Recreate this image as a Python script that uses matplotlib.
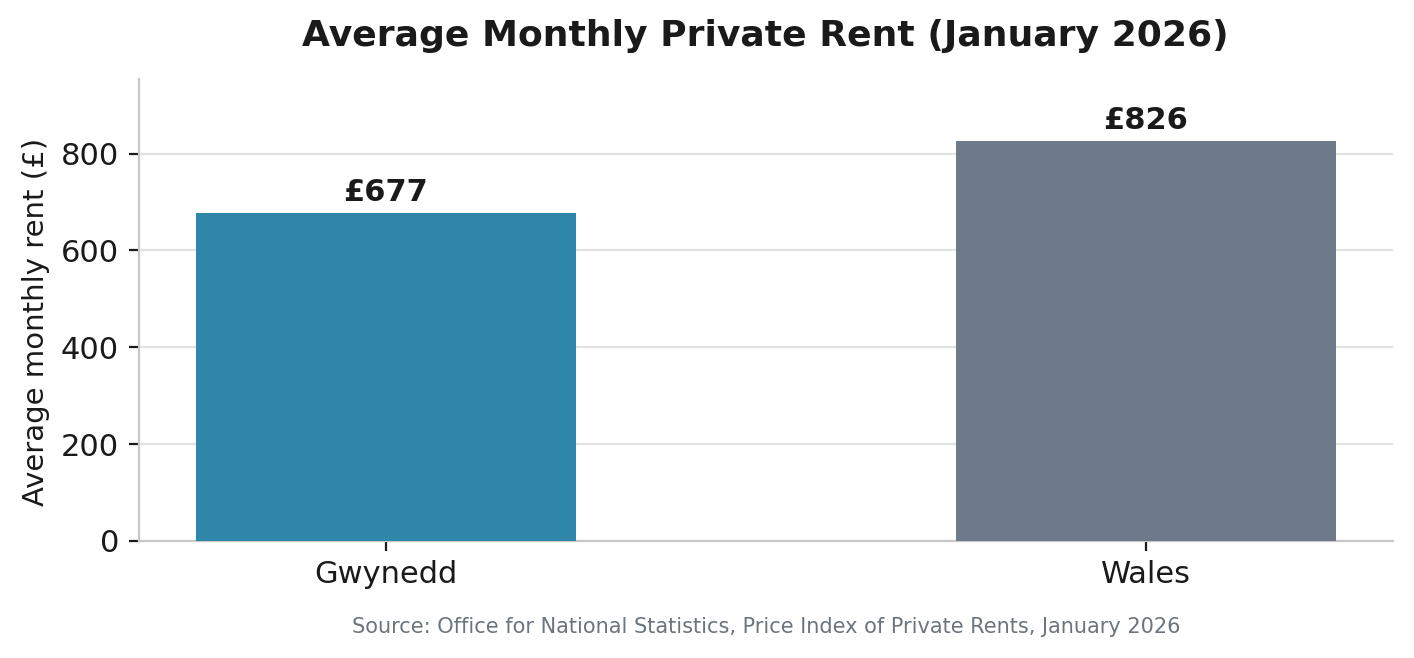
import matplotlib
matplotlib.use("Agg")
import matplotlib.pyplot as plt

# data
areas = ["Gwynedd", "Wales"]
rents = [677, 826]
bar_colours = ["#2E86AB", "#6C7A89"]

fig, ax = plt.subplots(figsize=(7.07, 3.29), dpi=200)

bars = ax.bar(areas, rents, width=0.5, color=bar_colours, zorder=3)
for b, v in zip(bars, rents):
    ax.text(b.get_x() + b.get_width() / 2, v + 12, "£%d" % v,
            ha="center", va="bottom", fontsize=11, fontweight="bold", color="#1a1a1a")

ax.set_ylim(0, max(rents) * 1.155)
ax.set_ylabel("Average monthly rent (£)", fontsize=10.5, color="#1a1a1a")
ax.yaxis.label.set_y(0.475)
ax.set_title("Average Monthly Private Rent (January 2026)", fontsize=13,
             fontweight="bold", color="#1a1a1a", pad=12)

ax.yaxis.grid(True, color="#e2e2e2", linewidth=0.8, zorder=0)
ax.set_axisbelow(True)
for s in ["top", "right"]:
    ax.spines[s].set_visible(False)
for s in ["left", "bottom"]:
    ax.spines[s].set_color("#c8c8c8")
ax.tick_params(axis="both", labelsize=11, colors="#1a1a1a")

fig.text(0.542, 0.032, "Source: Office for National Statistics, Price Index of Private Rents, January 2026",
         ha="center", va="bottom", fontsize=7.5, color="#6c757d")

fig.subplots_adjust(left=0.098, right=0.985, top=0.88, bottom=0.178)
fig.savefig("out.png", dpi=200)
